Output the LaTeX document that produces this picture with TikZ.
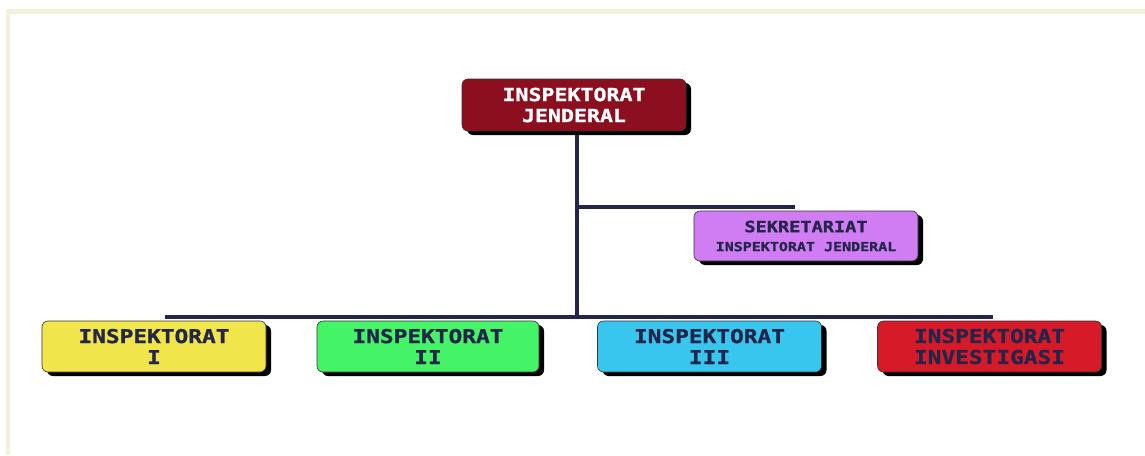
\documentclass[tikz,border=0pt]{standalone}
\usepackage{fontspec}
\newfontfamily\bx{DejaVu Sans Mono}[UprightFont=* Bold, FakeStretch=1.2, FakeBold=1.2]
\usetikzlibrary{shadows}
\definecolor{navy}{HTML}{23264A}
\definecolor{frame}{HTML}{F3F1DC}
\definecolor{cIJ}{HTML}{8B0F1E}
\definecolor{cSek}{HTML}{D07CF2}
\definecolor{cI}{HTML}{F0E54B}
\definecolor{cII}{HTML}{45F466}
\definecolor{cIII}{HTML}{38C6EE}
\definecolor{cInv}{HTML}{D71A27}
\tikzset{
  orgbox/.style={draw=black!80, line width=0.6pt, rounded corners=6pt,
    minimum width=224pt, minimum height=51pt, inner sep=0pt, align=center,
    text=navy, font=\bx\fontsize{19}{21}\selectfont,
    drop shadow={shadow xshift=5pt, shadow yshift=-4pt, fill=black, opacity=1}},
  conn/.style={draw=navy, line width=4.5pt}
}
\begin{document}
\begin{tikzpicture}[x=1pt,y=-1pt]
\useasboundingbox (0,0) rectangle (1145,455);
\fill[frame] (6,9) rectangle (1145,14);
\fill[frame] (6,9) rectangle (10,455);
% connectors
\coordinate (vtop) at (577,131);
\coordinate (vbot) at (577,317);
\coordinate (bl) at (165,317);
\coordinate (br) at (993,317);
\coordinate (bj) at (577,207);
\coordinate (be) at (795,207);
\draw[conn] (vtop) -- (vbot);
\draw[conn] (bl) -- (br);
\draw[conn] (bj) -- (be);
% boxes
\node[orgbox, fill=cIJ, text=white, minimum height=52pt, font=\bx\fontsize{18}{21}\selectfont] (ij) at (574,105) {INSPEKTORAT\\JENDERAL};
\node[orgbox, fill=cSek, minimum height=50pt] (sek) at (806,236) {{\fontsize{15.5}{16}\selectfont SEKRETARIAT}\\[-2pt]{\fontsize{12.5}{14}\selectfont INSPEKTORAT JENDERAL}};
\node[orgbox, fill=cI] (i1) at (154,346.5) {INSPEKTORAT\\I};
\node[orgbox, fill=cII, minimum width=222pt] (i2) at (428,346.5) {INSPEKTORAT\\II};
\node[orgbox, fill=cIII] (i3) at (709.5,346.5) {INSPEKTORAT\\III};
\node[orgbox, fill=cInv] (i4) at (989.5,346.5) {INSPEKTORAT\\INVESTIGASI};
\end{tikzpicture}
\end{document}
